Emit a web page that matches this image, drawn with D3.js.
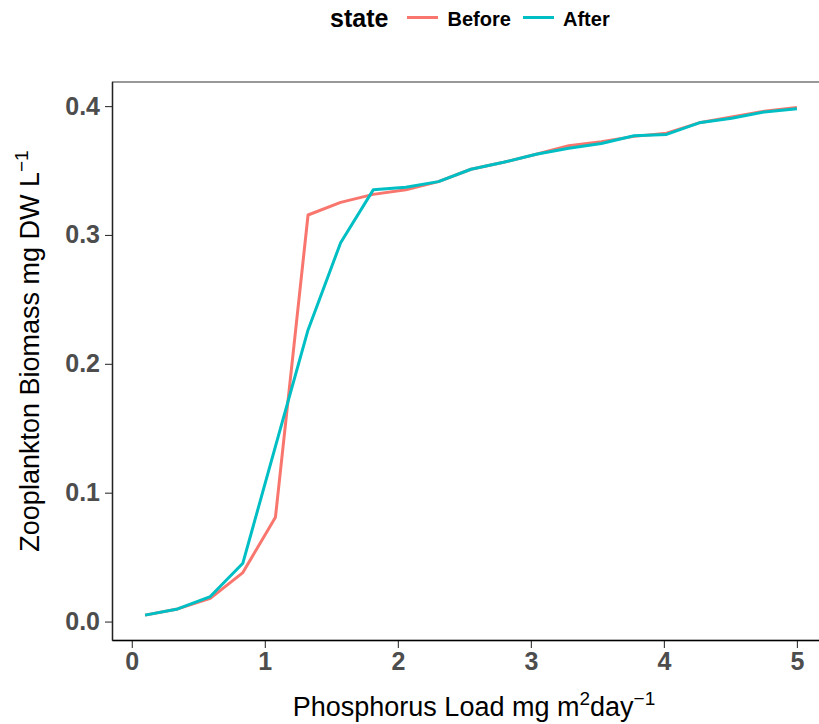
<!DOCTYPE html>
<html>
<head>
<meta charset="utf-8">
<script src="https://cdn.jsdelivr.net/npm/d3@7"></script>
<style>
  html, body { margin: 0; padding: 0; background: #fff; }
  svg { display: block; font-family: "Liberation Sans", Arial, sans-serif; }
</style>
</head>
<body>
<svg id="chart" width="819" height="724"></svg>
<script>
// Phosphorus load (mg m^2 day^-1)
const loads = [0.1, 0.345, 0.59, 0.835, 1.08, 1.325, 1.57, 1.815, 2.06, 2.305, 2.55,
               2.795, 3.04, 3.285, 3.53, 3.775, 4.02, 4.265, 4.51, 4.755, 5.0];
// Zooplankton biomass (mg DW L^-1) per state
const before = [0.005, 0.0098, 0.018, 0.038, 0.081, 0.3155, 0.3253, 0.3315, 0.335, 0.3414, 0.351,
                0.3564, 0.3626, 0.3693, 0.3724, 0.3765, 0.379, 0.387, 0.3915, 0.396, 0.399];
const after  = [0.005, 0.0098, 0.0194, 0.0453, 0.136, 0.2263, 0.294, 0.335, 0.337, 0.3414, 0.351,
                0.3564, 0.3626, 0.3673, 0.371, 0.377, 0.378, 0.387, 0.3905, 0.3955, 0.398];
const states = ["Before", "After"];
const stateColors = ["#F8766D", "#00BFC4"];
const xTicks = [0, 1, 2, 3, 4, 5];
const yTicks = [0, 0.1, 0.2, 0.3, 0.4];

const series = [before, after].map((vals, k) => ({
  state: states[k],
  color: stateColors[k],
  points: loads.map((x, i) => ({ x, y: vals[i] }))
}));

const svg = d3.select("#chart");
const panel = { left: 112.5, right: 829.5, top: 82, bottom: 640.5 };

// continuous scales padded by 5% of the data range on each side
function padded(ext) {
  const p = (ext[1] - ext[0]) * 0.05;
  return [ext[0] - p, ext[1] + p];
}
const x = d3.scaleLinear().domain(padded(d3.extent(loads)))
  .range([panel.left, panel.right]);
const y = d3.scaleLinear().domain(padded(d3.extent(before.concat(after))))
  .range([panel.bottom, panel.top]);

// panel border
svg.append("rect")
  .attr("x", panel.left).attr("y", panel.top)
  .attr("width", panel.right - panel.left).attr("height", panel.bottom - panel.top)
  .attr("fill", "none").attr("stroke", "#555").attr("stroke-width", 1.2);

// data lines
const line = d3.line().x(d => x(d.x)).y(d => y(d.y));
svg.append("g").selectAll("path").data(series).join("path")
  .attr("d", d => line(d.points))
  .attr("fill", "none")
  .attr("stroke", d => d.color)
  .attr("stroke-width", 3)
  .attr("stroke-linejoin", "round");

// axes
const xAxis = svg.append("g")
  .attr("transform", `translate(0,${panel.bottom})`)
  .call(d3.axisBottom(x).tickValues(xTicks).tickFormat(d3.format("d"))
    .tickSize(7.5).tickPadding(4));
const yAxis = svg.append("g")
  .attr("transform", `translate(${panel.left},0)`)
  .call(d3.axisLeft(y).tickValues(yTicks).tickFormat(d3.format(".1f"))
    .tickSize(7.5).tickPadding(5));

[xAxis, yAxis].forEach(g => {
  g.select(".domain").remove();
  g.selectAll(".tick line").attr("stroke", "#333").attr("stroke-width", 1.1);
  g.selectAll(".tick text")
    .attr("fill", "#4d4d4d")
    .style("font-size", "25px")
    .style("font-weight", "bold")
    .style("font-family", "'Liberation Sans', Arial, sans-serif");
});

// axis lines
svg.append("line")
  .attr("x1", panel.left).attr("x2", panel.right)
  .attr("y1", panel.bottom).attr("y2", panel.bottom)
  .attr("stroke", "#000").attr("stroke-width", 1.6);
svg.append("line")
  .attr("x1", panel.left).attr("x2", panel.left)
  .attr("y1", panel.top).attr("y2", panel.bottom)
  .attr("stroke", "#222").attr("stroke-width", 1.4);

// axis titles with superscripts
const xt = svg.append("text")
  .attr("x", 474).attr("y", 716)
  .attr("text-anchor", "middle")
  .style("font-size", "27px").attr("fill", "#000");
xt.append("tspan").text("Phosphorus Load mg m");
xt.append("tspan").attr("dy", -11).style("font-size", "19px").text("2");
xt.append("tspan").attr("dy", 11).text("day");
xt.append("tspan").attr("dy", -11).style("font-size", "19px").text("\u22121");

const yt = svg.append("text")
  .attr("transform", "translate(39,351) rotate(-90)")
  .attr("text-anchor", "middle")
  .style("font-size", "27px").attr("fill", "#000");
yt.append("tspan").text("Zooplankton Biomass mg DW L");
yt.append("tspan").attr("dy", -11).style("font-size", "19px").text("\u22121");

// legend
const legend = svg.append("g");
legend.append("text")
  .attr("x", 330).attr("y", 27)
  .style("font-size", "25px").style("font-weight", "bold")
  .attr("fill", "#000").text("state");
const keyX = [407, 523];
const labelX = [447.5, 563];
series.forEach((s, k) => {
  legend.append("line")
    .attr("x1", keyX[k]).attr("x2", keyX[k] + 31)
    .attr("y1", 17.5).attr("y2", 17.5)
    .attr("stroke", s.color).attr("stroke-width", 3);
  legend.append("text")
    .attr("x", labelX[k]).attr("y", 26)
    .style("font-size", "20px").style("font-weight", "bold")
    .attr("fill", "#000").text(s.state);
});
</script>
</body>
</html>
